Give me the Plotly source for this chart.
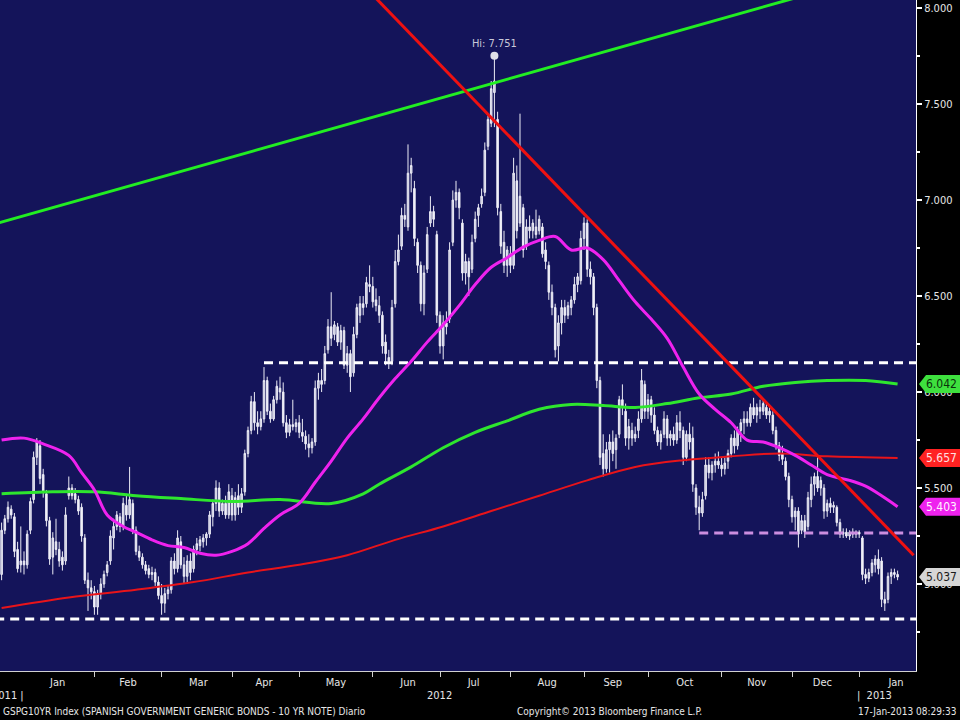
import pandas as pd
import plotly.graph_objects as go

# GSPG10YR daily candles, one (open, high, low, close) per trading day
dec_2011 = [(5.05, 5.32, 5.02, 5.28), (5.28, 5.36, 5.26, 5.34), (5.34, 5.43, 5.32, 5.40), (5.39, 5.41, 5.34, 5.36),
            (5.35, 5.37, 5.14, 5.17), (5.18, 5.22, 5.06, 5.08), (5.10, 5.30, 5.06, 5.12)]
jan_2012 = [(5.12, 5.17, 5.05, 5.10), (5.10, 5.28, 5.08, 5.26), (5.28, 5.45, 5.26, 5.43), (5.44, 5.69, 5.42, 5.66),
            (5.66, 5.76, 5.62, 5.74), (5.72, 5.75, 5.52, 5.55), (5.57, 5.60, 5.45, 5.48), (5.47, 5.49, 5.30, 5.33),
            (5.33, 5.35, 5.10, 5.13), (5.14, 5.27, 5.05, 5.24), (5.22, 5.34, 5.15, 5.18), (5.18, 5.22, 5.09, 5.12),
            (5.14, 5.17, 5.07, 5.10), (5.12, 5.40, 5.10, 5.36), (5.46, 5.56, 5.44, 5.50), (5.50, 5.52, 5.44, 5.46),
            (5.47, 5.50, 5.42, 5.44), (5.44, 5.46, 5.36, 5.38), (5.40, 5.42, 5.22, 5.25), (5.24, 5.26, 5.00, 5.02),
            (5.02, 5.06, 4.86, 4.98), (4.98, 5.02, 4.92, 4.96)]
feb_2012 = [(4.96, 4.99, 4.84, 4.88), (4.88, 4.97, 4.84, 4.95), (4.95, 5.03, 4.92, 5.00), (5.00, 5.07, 4.98, 5.05),
            (5.06, 5.12, 5.04, 5.10), (5.12, 5.28, 5.10, 5.25), (5.24, 5.34, 5.18, 5.30), (5.30, 5.38, 5.28, 5.36),
            (5.35, 5.37, 5.27, 5.30), (5.30, 5.45, 5.28, 5.42), (5.41, 5.47, 5.33, 5.36), (5.36, 5.61, 5.34, 5.44),
            (5.42, 5.44, 5.26, 5.28), (5.28, 5.30, 5.15, 5.17), (5.17, 5.20, 5.12, 5.14), (5.14, 5.16, 5.08, 5.10),
            (5.10, 5.12, 5.05, 5.07), (5.08, 5.10, 5.03, 5.05), (5.05, 5.09, 5.02, 5.06), (5.06, 5.08, 4.99, 5.01),
            (5.01, 5.04, 4.92, 4.94)]
mar_2012 = [(4.94, 5.00, 4.84, 4.90), (4.90, 4.98, 4.85, 4.95), (4.95, 4.99, 4.92, 4.97), (4.97, 5.14, 4.95, 5.12),
            (5.12, 5.16, 5.05, 5.08), (5.08, 5.28, 5.06, 5.24), (5.22, 5.25, 5.08, 5.10), (5.10, 5.14, 5.00, 5.04),
            (5.04, 5.15, 5.00, 5.12), (5.12, 5.16, 5.02, 5.06), (5.08, 5.20, 5.06, 5.18), (5.18, 5.24, 5.15, 5.21),
            (5.20, 5.25, 5.17, 5.23), (5.22, 5.26, 5.19, 5.24), (5.24, 5.27, 5.20, 5.26), (5.26, 5.38, 5.24, 5.36),
            (5.35, 5.44, 5.30, 5.42), (5.42, 5.54, 5.38, 5.50), (5.50, 5.53, 5.35, 5.38), (5.38, 5.44, 5.36, 5.42),
            (5.42, 5.46, 5.34, 5.36), (5.36, 5.52, 5.34, 5.48)]
apr_2012 = [(5.46, 5.50, 5.33, 5.36), (5.36, 5.48, 5.33, 5.45), (5.46, 5.52, 5.36, 5.40), (5.40, 5.50, 5.37, 5.47),
            (5.48, 5.70, 5.46, 5.68), (5.68, 5.82, 5.66, 5.80), (5.80, 5.98, 5.78, 5.95), (5.95, 6.00, 5.80, 5.84),
            (5.84, 5.90, 5.78, 5.82), (5.82, 5.90, 5.80, 5.86), (5.86, 6.13, 5.84, 6.06), (6.06, 6.08, 5.88, 5.90),
            (5.90, 5.94, 5.84, 5.86), (5.86, 5.98, 5.85, 5.96), (5.96, 6.06, 5.94, 6.03), (6.02, 6.08, 5.96, 6.00),
            (6.00, 6.05, 5.82, 5.84), (5.84, 5.88, 5.76, 5.79), (5.79, 5.86, 5.77, 5.83), (5.83, 5.96, 5.80, 5.82),
            (5.82, 5.86, 5.79, 5.84)]
may_2012 = [(5.84, 5.88, 5.76, 5.79), (5.79, 5.86, 5.74, 5.77), (5.77, 5.80, 5.70, 5.73), (5.73, 5.78, 5.66, 5.71),
            (5.71, 5.76, 5.68, 5.74), (5.74, 6.06, 5.72, 6.02), (6.02, 6.10, 5.96, 6.06), (6.06, 6.12, 6.00, 6.04),
            (6.06, 6.24, 6.04, 6.20), (6.22, 6.38, 6.20, 6.34), (6.34, 6.52, 6.24, 6.28), (6.30, 6.37, 6.27, 6.35),
            (6.34, 6.36, 6.24, 6.26), (6.26, 6.35, 6.22, 6.32), (6.32, 6.34, 6.12, 6.14), (6.14, 6.24, 6.10, 6.20),
            (6.20, 6.22, 6.00, 6.08), (6.10, 6.34, 6.08, 6.30), (6.30, 6.46, 6.28, 6.44), (6.40, 6.50, 6.36, 6.46),
            (6.46, 6.50, 6.40, 6.44), (6.46, 6.60, 6.44, 6.57), (6.56, 6.66, 6.52, 6.55)]
jun_2012 = [(6.55, 6.60, 6.44, 6.47), (6.48, 6.54, 6.42, 6.45), (6.45, 6.50, 6.36, 6.40), (6.40, 6.42, 6.20, 6.24),
            (6.26, 6.30, 6.14, 6.20), (6.18, 6.22, 6.12, 6.16), (6.16, 6.48, 6.14, 6.44), (6.46, 6.74, 6.44, 6.68),
            (6.68, 6.82, 6.66, 6.74), (6.76, 6.96, 6.74, 6.92), (6.92, 6.98, 6.86, 6.90), (6.86, 7.29, 6.84, 7.14),
            (7.14, 7.22, 7.04, 7.18), (7.06, 7.10, 6.76, 6.80), (6.78, 6.80, 6.62, 6.66), (6.66, 6.68, 6.42, 6.46),
            (6.46, 6.66, 6.40, 6.62), (6.64, 6.86, 6.62, 6.82), (6.88, 7.02, 6.86, 6.94), (6.94, 6.97, 6.86, 6.90),
            (6.82, 6.84, 6.36, 6.40)]
jul_2012 = [(6.40, 6.42, 6.20, 6.24), (6.24, 6.40, 6.17, 6.36), (6.36, 6.42, 6.30, 6.34), (6.38, 6.78, 6.36, 6.74),
            (6.78, 7.05, 6.76, 7.00), (7.00, 7.10, 6.96, 7.04), (7.04, 7.06, 6.90, 6.96), (6.88, 6.90, 6.58, 6.62),
            (6.62, 6.72, 6.56, 6.68), (6.68, 6.70, 6.50, 6.60), (6.64, 6.82, 6.62, 6.78), (6.80, 6.94, 6.78, 6.90),
            (6.92, 6.98, 6.86, 6.96), (6.98, 7.06, 6.96, 7.02), (7.04, 7.30, 7.02, 7.26), (7.28, 7.44, 7.26, 7.42),
            (7.40, 7.62, 7.38, 7.58), (7.56, 7.751, 7.38, 7.62), (7.42, 7.46, 6.92, 6.96), (6.94, 6.98, 6.72, 6.76),
            (6.78, 6.84, 6.62, 6.66), (6.66, 6.76, 6.60, 6.74)]
aug_2012 = [(6.72, 6.76, 6.62, 6.66), (6.66, 7.22, 6.64, 7.14), (7.10, 7.18, 6.80, 6.84), (6.88, 7.45, 6.86, 7.02),
            (6.96, 6.98, 6.70, 6.74), (6.76, 6.90, 6.74, 6.86), (6.86, 6.92, 6.80, 6.84), (6.84, 6.90, 6.80, 6.88),
            (6.86, 6.95, 6.80, 6.82), (6.84, 6.92, 6.82, 6.90), (6.86, 6.88, 6.70, 6.72), (6.74, 6.78, 6.64, 6.68),
            (6.66, 6.68, 6.48, 6.52), (6.52, 6.56, 6.40, 6.44), (6.44, 6.46, 6.18, 6.22), (6.24, 6.40, 6.16, 6.36),
            (6.36, 6.48, 6.30, 6.44), (6.44, 6.48, 6.36, 6.40), (6.40, 6.47, 6.38, 6.45), (6.44, 6.50, 6.40, 6.48),
            (6.48, 6.60, 6.46, 6.56), (6.56, 6.62, 6.52, 6.60), (6.58, 6.84, 6.56, 6.80)]
sep_2012 = [(6.80, 6.91, 6.74, 6.88), (6.88, 6.90, 6.60, 6.64), (6.64, 6.68, 6.56, 6.60), (6.60, 6.62, 6.40, 6.44),
            (6.44, 6.46, 6.02, 6.06), (6.06, 6.08, 5.62, 5.66), (5.68, 5.78, 5.56, 5.60), (5.60, 5.74, 5.58, 5.70),
            (5.70, 5.78, 5.58, 5.74), (5.74, 5.80, 5.64, 5.68), (5.70, 5.78, 5.60, 5.76), (5.78, 5.98, 5.76, 5.96),
            (5.96, 6.04, 5.88, 5.92), (5.90, 5.94, 5.72, 5.76), (5.76, 5.86, 5.70, 5.82), (5.80, 5.84, 5.72, 5.76),
            (5.76, 5.82, 5.74, 5.78), (5.80, 5.90, 5.76, 5.86), (5.86, 6.12, 5.84, 6.06), (6.04, 6.06, 5.86, 5.90)]
oct_2012 = [(5.90, 5.99, 5.86, 5.96), (5.96, 5.98, 5.84, 5.88), (5.88, 5.92, 5.78, 5.80), (5.80, 5.82, 5.72, 5.74),
            (5.74, 5.80, 5.70, 5.78), (5.78, 5.90, 5.76, 5.86), (5.86, 5.88, 5.72, 5.76), (5.76, 5.80, 5.72, 5.78),
            (5.78, 5.82, 5.72, 5.75), (5.75, 5.88, 5.73, 5.84), (5.84, 5.90, 5.76, 5.80), (5.80, 5.82, 5.62, 5.66),
            (5.66, 5.80, 5.64, 5.78), (5.78, 5.84, 5.70, 5.74), (5.76, 5.82, 5.48, 5.52), (5.50, 5.52, 5.36, 5.40),
            (5.40, 5.46, 5.28, 5.37), (5.37, 5.48, 5.35, 5.44), (5.46, 5.66, 5.44, 5.62), (5.62, 5.66, 5.55, 5.58),
            (5.58, 5.64, 5.54, 5.62), (5.62, 5.68, 5.58, 5.64), (5.64, 5.69, 5.60, 5.62)]
nov_2012 = [(5.62, 5.66, 5.56, 5.60), (5.60, 5.66, 5.57, 5.63), (5.64, 5.70, 5.60, 5.68), (5.68, 5.78, 5.66, 5.76),
            (5.76, 5.80, 5.68, 5.72), (5.72, 5.82, 5.70, 5.80), (5.80, 5.86, 5.74, 5.84), (5.84, 5.90, 5.78, 5.86),
            (5.86, 5.90, 5.82, 5.84), (5.84, 5.94, 5.82, 5.92), (5.92, 5.97, 5.86, 5.88), (5.88, 5.94, 5.84, 5.92),
            (5.92, 5.96, 5.86, 5.90), (5.90, 5.96, 5.88, 5.94), (5.92, 5.94, 5.86, 5.88), (5.88, 5.92, 5.84, 5.90),
            (5.88, 5.90, 5.78, 5.80), (5.80, 5.82, 5.70, 5.72), (5.72, 5.74, 5.64, 5.67), (5.68, 5.72, 5.62, 5.65),
            (5.64, 5.66, 5.54, 5.56), (5.56, 5.58, 5.40, 5.44)]
dec_2012 = [(5.44, 5.46, 5.32, 5.35), (5.35, 5.40, 5.28, 5.38), (5.38, 5.40, 5.19, 5.26), (5.28, 5.36, 5.26, 5.33),
            (5.33, 5.36, 5.24, 5.27), (5.30, 5.48, 5.28, 5.45), (5.44, 5.56, 5.40, 5.52), (5.52, 5.58, 5.46, 5.56),
            (5.56, 5.66, 5.48, 5.50), (5.50, 5.56, 5.46, 5.54), (5.50, 5.52, 5.34, 5.38), (5.38, 5.44, 5.35, 5.42),
            (5.42, 5.45, 5.37, 5.40), (5.40, 5.43, 5.37, 5.41), (5.40, 5.41, 5.30, 5.32), (5.32, 5.34, 5.24, 5.26),
            (5.26, 5.29, 5.24, 5.27), (5.27, 5.29, 5.24, 5.25), (5.25, 5.28, 5.23, 5.27), (5.27, 5.29, 5.24, 5.26),
            (5.26, 5.28, 5.24, 5.27)]
jan_2013 = [(5.27, 5.28, 5.24, 5.26), (5.24, 5.25, 5.02, 5.05), (5.05, 5.08, 5.00, 5.03), (5.03, 5.08, 5.01, 5.06),
            (5.06, 5.13, 5.04, 5.11), (5.10, 5.15, 5.06, 5.13), (5.13, 5.18, 5.05, 5.08), (5.12, 5.14, 4.88, 4.92),
            (4.92, 4.96, 4.86, 4.90), (4.92, 5.06, 4.90, 5.04), (5.04, 5.08, 5.00, 5.06), (5.06, 5.08, 5.03, 5.05),
            (5.05, 5.07, 5.02, 5.037)]

# moving averages (sampled weekly off the chart)
magenta_dates = ["2011-12-22", "2012-01-02", "2012-01-10", "2012-01-20", "2012-01-26", "2012-02-01", "2012-02-07",
                 "2012-02-14", "2012-02-20", "2012-02-27", "2012-03-05", "2012-03-12", "2012-03-19", "2012-03-26",
                 "2012-04-02", "2012-04-09", "2012-04-16", "2012-04-23", "2012-05-01", "2012-05-08", "2012-05-15",
                 "2012-05-22", "2012-05-29", "2012-06-05", "2012-06-12", "2012-06-19", "2012-06-26", "2012-07-03",
                 "2012-07-10", "2012-07-17", "2012-07-24", "2012-07-31", "2012-08-07", "2012-08-14", "2012-08-21",
                 "2012-08-28", "2012-09-04", "2012-09-11", "2012-09-18", "2012-09-25", "2012-10-02", "2012-10-09",
                 "2012-10-16", "2012-10-23", "2012-10-30", "2012-11-06", "2012-11-13", "2012-11-20", "2012-11-27",
                 "2012-12-04", "2012-12-11", "2012-12-18", "2012-12-27", "2013-01-03", "2013-01-10", "2013-01-17"]
magenta_vals = [5.75, 5.76, 5.73, 5.67, 5.58, 5.49, 5.36, 5.30, 5.27, 5.23, 5.20, 5.19, 5.16, 5.15,
                5.17, 5.21, 5.29, 5.36, 5.42, 5.53, 5.64, 5.76, 5.86, 5.97, 6.07, 6.16, 6.26, 6.35,
                6.45, 6.56, 6.65, 6.70, 6.755, 6.79, 6.81, 6.74, 6.75, 6.69, 6.58, 6.47, 6.38, 6.28,
                6.13, 5.99, 5.91, 5.84, 5.75, 5.74, 5.71, 5.67, 5.62, 5.57, 5.54, 5.51, 5.46, 5.403]

green_ma_dates = ["2011-12-22", "2012-01-13", "2012-02-01", "2012-02-20", "2012-03-09", "2012-04-02", "2012-04-23",
                  "2012-05-15", "2012-05-29", "2012-06-05", "2012-06-19", "2012-07-03", "2012-07-17", "2012-07-31",
                  "2012-08-14", "2012-08-28", "2012-09-11", "2012-09-25", "2012-10-09", "2012-10-23", "2012-11-06",
                  "2012-11-20", "2012-12-04", "2012-12-18", "2013-01-03", "2013-01-17"]
green_ma_vals = [5.47, 5.48, 5.48, 5.46, 5.445, 5.43, 5.44, 5.42, 5.47, 5.52, 5.61, 5.71, 5.79, 5.85,
                 5.91, 5.935, 5.93, 5.92, 5.94, 5.97, 5.99, 6.03, 6.05, 6.06, 6.06, 6.042]

red_ma_dates = ["2011-12-22", "2012-01-20", "2012-02-20", "2012-03-15", "2012-04-09", "2012-05-01", "2012-05-22",
                "2012-06-12", "2012-07-03", "2012-07-24", "2012-08-14", "2012-09-04", "2012-09-25", "2012-10-16",
                "2012-11-06", "2012-11-27", "2012-12-18", "2013-01-17"]
red_ma_vals = [4.875, 4.93, 4.97, 5.01, 5.06, 5.10, 5.15, 5.23, 5.30, 5.38, 5.46, 5.54, 5.61, 5.645,
               5.665, 5.68, 5.665, 5.657]

# drawn trend lines and levels
green_trend_dates = ["2011-12-20", "2013-01-24"]
green_trend_vals = [6.876, 8.227]
red_trend_dates = ["2012-05-29", "2013-01-24"]
red_trend_vals = [8.12, 5.15]
upper_level, upper_start = 6.152, "2012-04-16"
floor_level, floor_start = 4.818, "2011-12-20"
pink_level, pink_start = 5.266, "2012-10-23"
level_end = "2013-01-25"

y_ticks = [5.0, 5.5, 6.0, 6.5, 7.0, 7.5, 8.0]
year_labels = ["2011", "2012", "2013"]
title_text = "GSPG10YR Index (SPANISH GOVERNMENT GENERIC BONDS - 10 YR NOTE) Diario"
copyright_text = "Copyright\u00a9 2013 Bloomberg Finance L.P."
stamp_text = "17-Jan-2013 08:29:33"

months = [dec_2011, jan_2012, feb_2012, mar_2012, apr_2012, may_2012, jun_2012, jul_2012,
          aug_2012, sep_2012, oct_2012, nov_2012, dec_2012, jan_2013]
rows = [r for m in months for r in m]
dates = pd.bdate_range("2011-12-22", "2013-01-17")
if len(rows) != len(dates):
    print("row count mismatch", len(rows), len(dates))
n = min(len(rows), len(dates))
dates = dates[:n]
opens = [r[0] for r in rows[:n]]
highs = [r[1] for r in rows[:n]]
lows = [r[2] for r in rows[:n]]
closes = [r[3] for r in rows[:n]]

FONT = "DejaVu Sans Condensed, Liberation Sans Narrow, sans-serif"
BG = "#14145a"
TXT = "#e6e6e6"

fig = go.Figure()

fig.add_trace(go.Candlestick(
    x=dates, open=opens, high=highs, low=lows, close=closes,
    increasing=dict(line=dict(color="#ececf6", width=1), fillcolor="#c4c4da"),
    decreasing=dict(line=dict(color="#ececf6", width=1), fillcolor="#f4f4fa"),
    whiskerwidth=0, hoverinfo="skip",
))

def hline(level, start, color):
    fig.add_trace(go.Scatter(x=[start, level_end], y=[level, level], mode="lines",
                             line=dict(color=color, width=3, dash="9px,6px"), hoverinfo="skip"))

hline(upper_level, upper_start, "#ffffff")
hline(floor_level, floor_start, "#ffffff")
hline(pink_level, pink_start, "#cc8ee0")

fig.add_trace(go.Scatter(x=red_ma_dates, y=red_ma_vals, mode="lines", line=dict(color="#e8141a", width=2, shape="spline")))
fig.add_trace(go.Scatter(x=green_ma_dates, y=green_ma_vals, mode="lines", line=dict(color="#2ee62e", width=3, shape="spline")))
fig.add_trace(go.Scatter(x=magenta_dates, y=magenta_vals, mode="lines", line=dict(color="#ee22ee", width=3, shape="spline")))
fig.add_trace(go.Scatter(x=green_trend_dates, y=green_trend_vals, mode="lines", line=dict(color="#22ee22", width=3)))
fig.add_trace(go.Scatter(x=red_trend_dates, y=red_trend_vals, mode="lines", line=dict(color="#ee1111", width=3)))

# high marker
hi_i = max(range(n), key=lambda i: highs[i])
fig.add_trace(go.Scatter(
    x=[dates[hi_i]], y=[highs[hi_i]], mode="markers+text",
    marker=dict(color="#e0e0e8", size=8), text=["Hi: %.3f" % highs[hi_i]],
    textposition="top center", textfont=dict(family=FONT, size=11, color="#c8c8d8"), cliponaxis=False,
))

# right-hand value tags
tags = [(green_ma_vals[-1], "#3ee03e", "#0b300b"), (red_ma_vals[-1], "#ff2222", "#ffe0e0"),
        (magenta_vals[-1], "#ee22ee", "#fff0ff"), (closes[-1], "#d6d6d6", "#1a1a1a")]
shapes = []
annotations = []
px = 1 / 916.0
h = 9 / 192.0
for val, bg, fg in tags:
    x0, x1, x2 = 1 + 3 * px, 1 + 10 * px, 1 + 46 * px
    shapes.append(dict(type="path", xref="paper", yref="y", layer="above",
                       path=f"M {x0},{val} L {x1},{val + h} L {x2},{val + h} L {x2},{val - h} L {x1},{val - h} Z",
                       fillcolor=bg, line=dict(width=0)))
    annotations.append(dict(xref="paper", yref="y", x=1 + 8 * px, y=val, xanchor="left", yanchor="middle",
                            text="%.3f" % val, showarrow=False, font=dict(family=FONT, size=12, color=fg)))

yr = dict(family=FONT, size=11, color=TXT)
ft = dict(family=FONT, size=10, color=TXT)
annotations += [
    dict(xref="paper", yref="paper", x=26 * px, y=0, yshift=-16, xanchor="right", yanchor="top",
         text=year_labels[0] + " |", showarrow=False, font=yr),
    dict(xref="paper", yref="paper", x=439 * px, y=0, yshift=-16, xanchor="center", yanchor="top",
         text=year_labels[1], showarrow=False, font=yr),
    dict(xref="paper", yref="paper", x=855 * px, y=0, yshift=-16, xanchor="left", yanchor="top",
         text="|  " + year_labels[2], showarrow=False, font=yr),
    dict(xref="paper", yref="paper", x=1 * px, y=0, yshift=-33, xanchor="left", yanchor="top",
         text=title_text, showarrow=False, font=ft),
    dict(xref="paper", yref="paper", x=515 * px, y=0, yshift=-33, xanchor="left", yanchor="top",
         text=copyright_text, showarrow=False, font=ft),
    dict(xref="paper", yref="paper", x=959 * px, y=0, yshift=-33, xanchor="right", yanchor="top",
         text=stamp_text, showarrow=False, font=ft),
]

fig.update_layout(
    width=960, height=720, margin=dict(l=0, r=44, t=0, b=49),
    paper_bgcolor="#000000", plot_bgcolor=BG, showlegend=False,
    font=dict(family=FONT, size=11, color=TXT),
    shapes=shapes, annotations=annotations,
    xaxis=dict(
        type="date", range=["2011-12-21 12:00", "2013-01-24 18:00"],
        rangebreaks=[dict(bounds=["sat", "mon"])], rangeslider=dict(visible=False),
        dtick="M1", tick0="2012-01-01", tickformat="%b", ticklabelmode="period",
        ticks="outside", ticklen=5, tickcolor="#d0d0d0", showline=True, linecolor="#d0d0d0",
        ticklabelstandoff=-4,
        showgrid=False, zeroline=False, tickfont=dict(family=FONT, size=11, color=TXT),
    ),
    yaxis=dict(
        side="right", range=[4.547, 8.042], tickvals=y_ticks, tickformat=".3f",
        ticks="outside", ticklen=5, tickwidth=2, tickcolor="#ffffff",
        minor=dict(dtick=0.25, tick0=0, ticks="outside", ticklen=3, tickcolor="#ffffff"),
        showline=True, linecolor="#ffffff", linewidth=1, showgrid=False, zeroline=False,
        tickfont=dict(family=FONT, size=11, color=TXT),
    ),
)

# the page body has a default 8px margin; drop it so the figure sits at the window corner
fig.write_html("out.html", config={"displayModeBar": False},
               post_script="document.body.style.margin='0px';")
